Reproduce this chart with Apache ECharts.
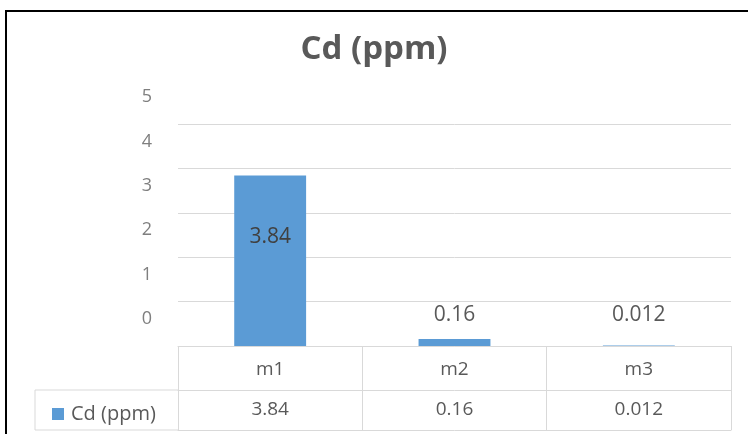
<!DOCTYPE html>
<html>
<head>
<meta charset="utf-8">
<script src="https://cdn.jsdelivr.net/npm/echarts@6/dist/echarts.min.js"></script>
<style>html,body{margin:0;padding:0;background:#fff}#c{width:748px;height:434px}</style>
</head>
<body>
<div id="c"></div>
<script>
var titleText = 'Cd (ppm)';
var seriesName = 'Cd (ppm)';
var categories = ['m1', 'm2', 'm3'];
var values = [3.84, 0.16, 0.012];
var yTicks = [0, 1, 2, 3, 4, 5];

var FONT = '"Open Sans", sans-serif';
var TXT = '#595959';
var GRID = '#D9D9D9';

var chart = echarts.init(document.getElementById('c'));
var barData = values.map(function (v, i) {
  var lbl = i === 0
    ? { position: 'inside', offset: [0, -24], color: '#404040' }
    : { position: 'insideBottom', distance: 20, color: TXT };
  return { value: v, label: lbl };
});
var lineAxis = function (off) {
  return {
    type: 'category', data: categories, position: 'bottom', offset: off,
    axisLine: { show: true, lineStyle: { color: GRID, width: 1 } },
    axisTick: { show: false }, axisLabel: { show: false }, splitLine: { show: false }
  };
};
chart.setOption({
  animation: false,
  textStyle: { fontFamily: FONT },
  title: {
    text: titleText, left: 'center', top: 28,
    textStyle: { fontFamily: FONT, fontSize: 33, fontWeight: 'bold', color: TXT }
  },
  legend: {
    data: [seriesName], left: 47, top: 399, icon: 'rect',
    itemWidth: 12, itemHeight: 12,
    textStyle: { fontFamily: FONT, fontSize: 20, color: TXT, padding: [0, 0, 0, 2] }
  },
  grid: { left: 178, right: 17, top: 124, bottom: 88, containLabel: false },
  xAxis: [{
    type: 'category', data: categories, boundaryGap: true,
    axisLine: { show: true, lineStyle: { color: GRID, width: 1 } },
    axisTick: { show: true, length: 84, lineStyle: { color: GRID, width: 1 } },
    axisLabel: {
      margin: 4,
      formatter: function (v, i) { return '{a|' + v + '}\n{b|' + String(values[i]) + '}'; },
      rich: {
        a: { fontFamily: FONT, fontSize: 19, color: TXT, lineHeight: 40 },
        b: { fontFamily: FONT, fontSize: 19, color: TXT, lineHeight: 40 }
      }
    }
  }, lineAxis(44), lineAxis(84)],
  yAxis: {
    type: 'value', min: yTicks[0], max: yTicks[yTicks.length - 1], interval: 1,
    axisLine: { show: false }, axisTick: { show: false },
    splitLine: { show: true, lineStyle: { color: GRID, width: 1 } },
    axisLabel: {
      margin: 26, verticalAlign: 'bottom', padding: [0, 0, 18, 0],
      fontFamily: FONT, fontSize: 18, color: '#7F7F7F'
    }
  },
  series: [{
    name: seriesName, type: 'bar', xAxisIndex: 0, data: barData, barWidth: '39%',
    itemStyle: { color: '#5B9BD5' },
    label: { show: true, fontFamily: FONT, fontSize: 21,
      formatter: function (p) { return String(p.value); } }
  }],
  graphic: [
    { type: 'polyline', shape: { points: [[178, 390], [35, 390], [35, 430], [178, 430]] },
      style: { stroke: GRID, lineWidth: 1, fill: null } },
    { type: 'rect', shape: { x: 6, y: 11, width: 800, height: 500 },
      style: { stroke: '#000', lineWidth: 2, fill: null }, z: 100 }
  ]
});
</script>
</body>
</html>
